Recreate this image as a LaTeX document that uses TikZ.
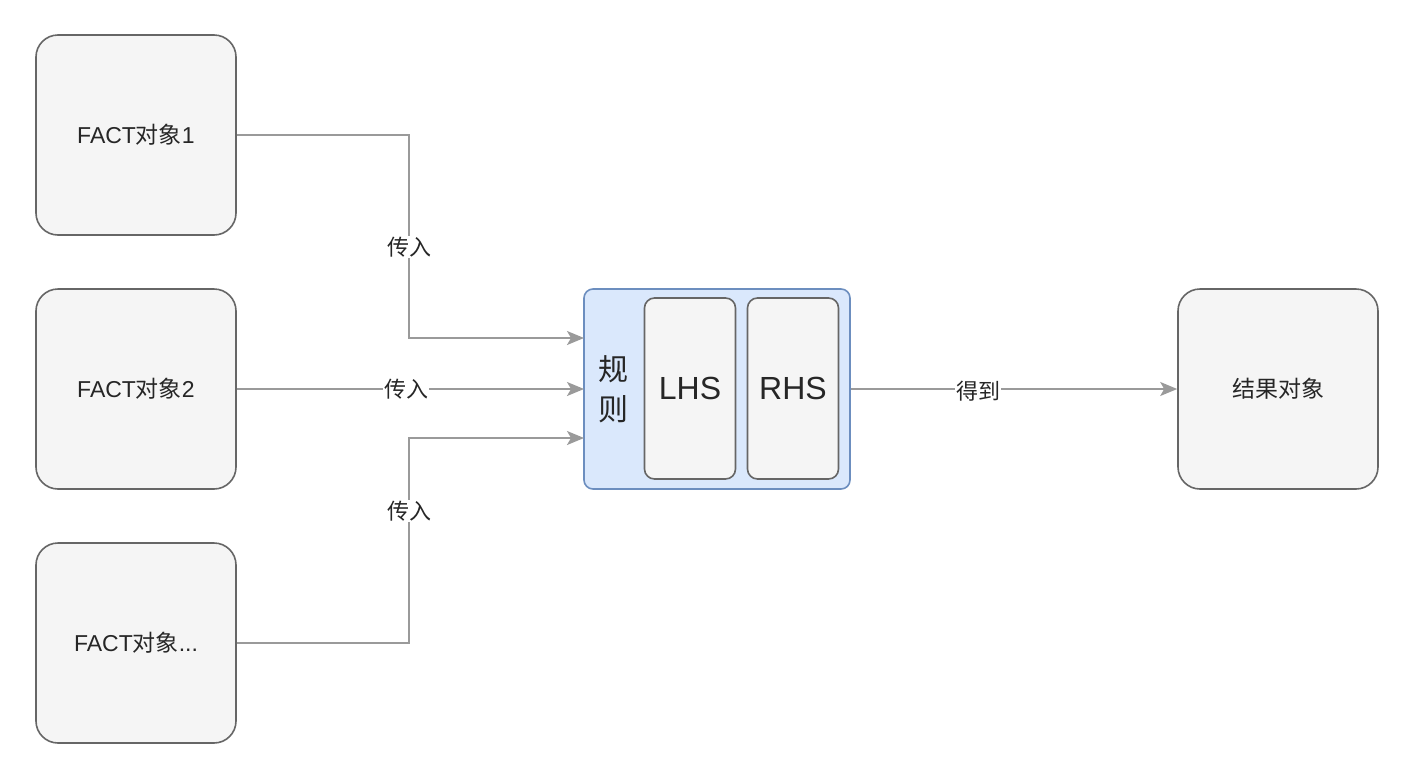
\documentclass[tikz,border=0pt]{standalone}
\usepackage{fontspec}
\setmainfont{Liberation Sans}
\newfontfamily\cjk{Noto Sans CJK SC}
\usetikzlibrary{arrows.meta}
\definecolor{boxfill}{HTML}{F5F5F5}
\definecolor{boxline}{HTML}{666666}
\definecolor{rulefill}{HTML}{DAE8FC}
\definecolor{ruleline}{HTML}{6C8EBF}
\definecolor{edgeline}{HTML}{9A9A9A}
\tikzset{
  factbox/.style={draw=boxline, fill=boxfill, line width=1.6pt, rounded corners=22pt,
    minimum width=200pt, minimum height=200pt, inner sep=0pt,
    font=\fontsize{23}{27}\selectfont, text=black!85},
  rulebox/.style={draw=ruleline, fill=rulefill, line width=1.6pt, rounded corners=9pt,
    minimum width=266pt, minimum height=200pt, inner sep=0pt},
  partbox/.style={draw=boxline, fill=boxfill, line width=1.6pt, rounded corners=10pt,
    minimum width=91pt, minimum height=181pt, inner sep=0pt,
    font=\fontsize{32}{36}\selectfont, text=black!85},
  conn/.style={draw=edgeline, line width=1.8pt,
    -{Stealth[length=17pt,width=14pt,inset=4pt]}},
  elabel/.style={fill=white, inner sep=1pt, font=\cjk\fontsize{22}{26}\selectfont, text=black!85}
}
\begin{document}
\begin{tikzpicture}[x=1pt,y=-1pt]
\useasboundingbox (0,0) rectangle (1418,766);
\node[factbox] (f1) at (136,135) {FACT{\cjk 对象}1};
\node[factbox] (f2) at (136,389) {FACT{\cjk 对象}2};
\node[factbox] (f3) at (136,643) {FACT{\cjk 对象}...};
\node[rulebox] (rule) at (717,389) {};
\node[partbox] (lhs) at (690,388.5) {LHS};
\node[partbox] (rhs) at (793,388.5) {RHS};
\node[align=center, inner sep=0pt, font=\cjk\fontsize{30}{40}\selectfont, text=black!85] (rl) at (613,389) {规\\则};
\node[factbox] (res) at (1278,389) {\cjk 结果对象};
\coordinate (in1) at (584,338);
\coordinate (in2) at (584,389);
\coordinate (in3) at (584,438);
\draw[conn] (f1.east) -| (409,338) -- (in1);
\draw[conn] (f2.east) -- (in2);
\draw[conn] (f3.east) -| (409,438) -- (in3);
\draw[conn] (rule.east) -- (res.west);
\node[elabel] (l1) at (409,247) {传入};
\node[elabel] (l2) at (406,389) {传入};
\node[elabel] (l3) at (409,511) {传入};
\node[elabel] (l4) at (978,391) {得到};
\end{tikzpicture}
\end{document}
